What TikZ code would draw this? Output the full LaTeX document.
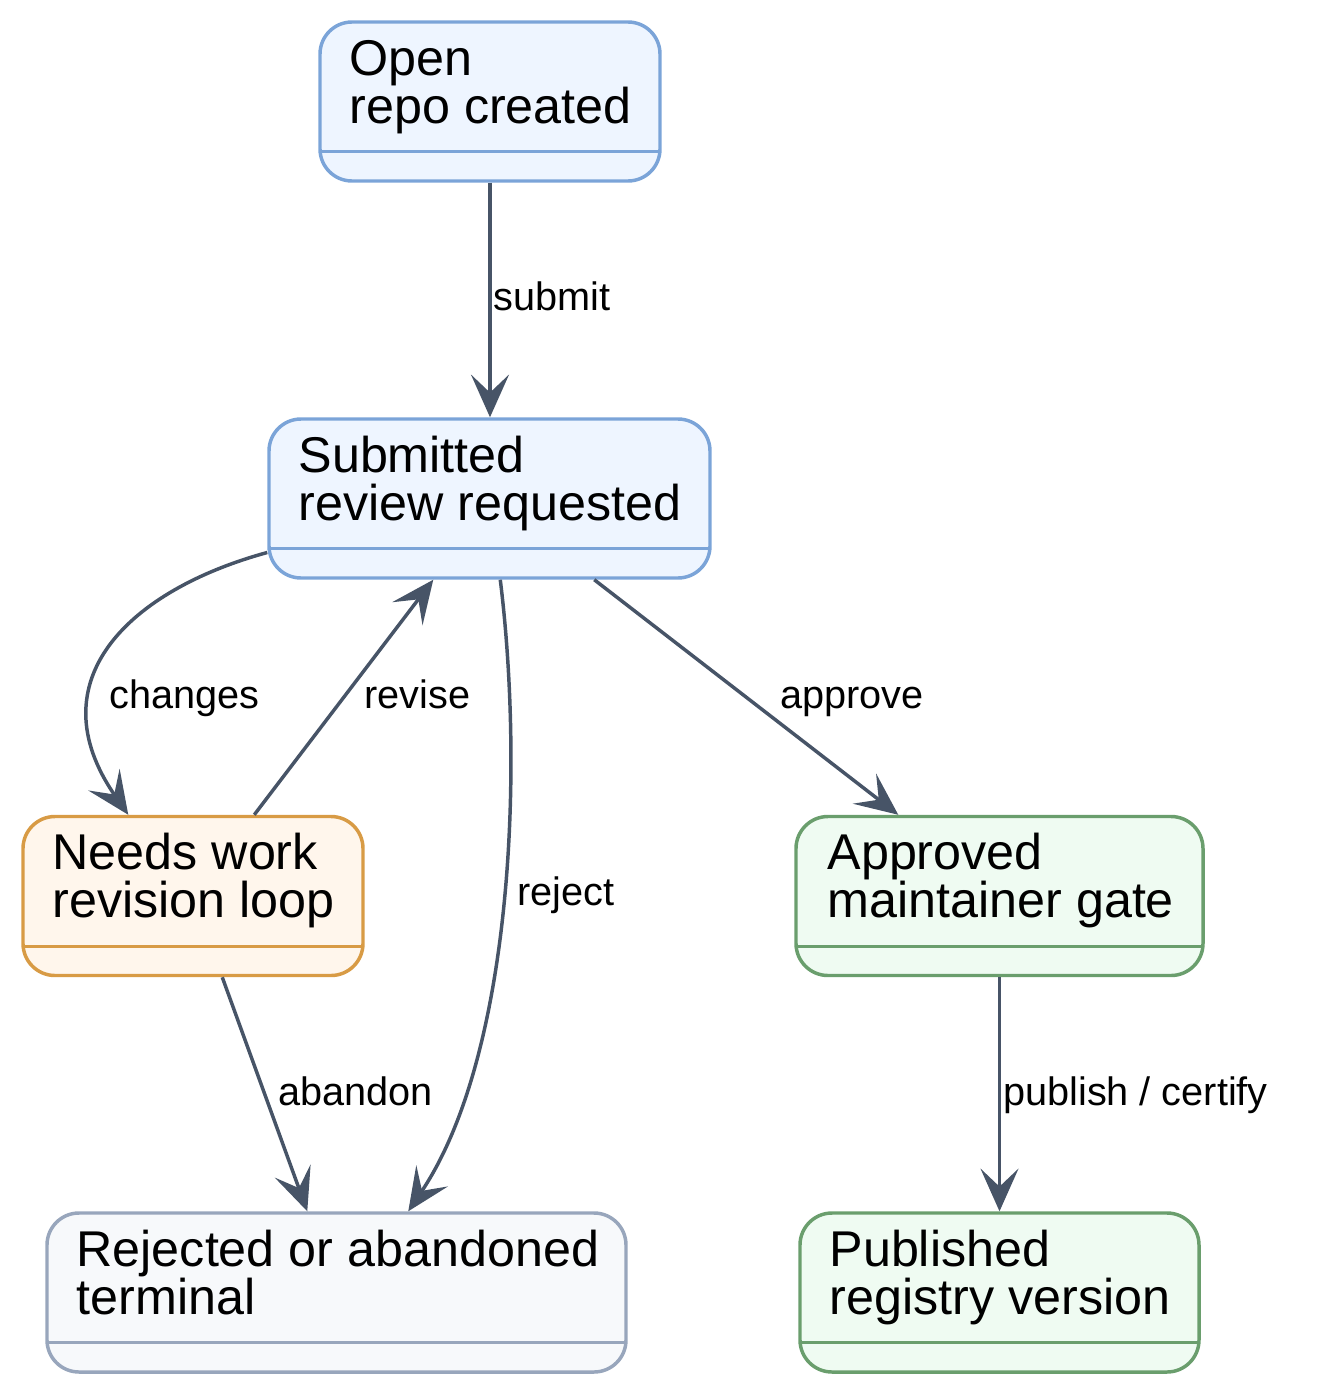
\documentclass[tikz,border=0pt]{standalone}
\usepackage{fontspec}
\setmainfont{Liberation Sans}
\usetikzlibrary{arrows.meta,calc}
\definecolor{blueB}{HTML}{7BA4D8}
\definecolor{blueF}{HTML}{EEF5FF}
\definecolor{orangeB}{HTML}{D89B45}
\definecolor{orangeF}{HTML}{FFF6EC}
\definecolor{greenB}{HTML}{6A9E6D}
\definecolor{greenF}{HTML}{EFFBF2}
\definecolor{grayB}{HTML}{98A6BC}
\definecolor{grayF}{HTML}{F7F9FB}
\definecolor{edgeC}{HTML}{475467}
\begin{document}
\begin{tikzpicture}[x=0.75pt,y=-0.75pt,
  sbox/.style={rectangle, rounded corners=24pt, line width=2.6pt, inner sep=0pt},
  bluebox/.style={sbox, draw=blueB, fill=blueF},
  orangebox/.style={sbox, draw=orangeB, fill=orangeF},
  greenbox/.style={sbox, draw=greenB, fill=greenF},
  graybox/.style={sbox, draw=grayB, fill=grayF},
  divline/.style={line width=2.6pt},
  stxt/.style={anchor=base west, inner sep=0pt, font=\fontsize{37.7pt}{36pt}\selectfont},
  etxt/.style={anchor=base west, inner sep=0pt, font=\fontsize{29.75pt}{34pt}\selectfont},
  conn/.style={draw=edgeC, line width=2.6pt, -{Stealth[length=32pt,width=28.5pt,inset=13.5pt]}}
]
\useasboundingbox (0,0) rectangle (1322,1377);

% state boxes
\node[bluebox, minimum width=340*0.75pt, minimum height=159*0.75pt] (open) at (490,101.5) {};
\node[bluebox, minimum width=441*0.75pt, minimum height=159*0.75pt] (sub) at (489.5,498.5) {};
\node[orangebox, minimum width=340*0.75pt, minimum height=159*0.75pt] (needs) at (193,896) {};
\node[greenbox, minimum width=407*0.75pt, minimum height=159*0.75pt] (appr) at (999.5,896) {};
\node[graybox, minimum width=579*0.75pt, minimum height=159*0.75pt] (rej) at (336.5,1292.5) {};
\node[greenbox, minimum width=399*0.75pt, minimum height=159*0.75pt] (pub) at (999.5,1292.5) {};

% dividers
\draw[divline, blueB] ($(open.south west)+(1.7,-31)$) -- ($(open.south east)+(-1.7,-31)$);
\draw[divline, blueB] ($(sub.south west)+(1.7,-31)$) -- ($(sub.south east)+(-1.7,-31)$);
\draw[divline, orangeB] ($(needs.south west)+(1.7,-31)$) -- ($(needs.south east)+(-1.7,-31)$);
\draw[divline, greenB] ($(appr.south west)+(1.7,-31)$) -- ($(appr.south east)+(-1.7,-31)$);
\draw[divline, grayB] ($(rej.south west)+(1.7,-31)$) -- ($(rej.south east)+(-1.7,-31)$);
\draw[divline, greenB] ($(pub.south west)+(1.7,-31)$) -- ($(pub.south east)+(-1.7,-31)$);

% state texts
\node[stxt] (open-a) at ($(open.north west)+(31,55)$) {Open};
\node[stxt] (open-b) at ($(open.north west)+(31,103)$) {repo created};
\node[stxt] (sub-a) at ($(sub.north west)+(31,55)$) {Submitted};
\node[stxt] (sub-b) at ($(sub.north west)+(31,103)$) {review requested};
\node[stxt] (needs-a) at ($(needs.north west)+(31,55)$) {Needs work};
\node[stxt] (needs-b) at ($(needs.north west)+(31,103)$) {revision loop};
\node[stxt] (appr-a) at ($(appr.north west)+(33,55)$) {Approved};
\node[stxt] (appr-b) at ($(appr.north west)+(33,103)$) {maintainer gate};
\node[stxt] (rej-a) at ($(rej.north west)+(31,55)$) {Rejected or abandoned};
\node[stxt] (rej-b) at ($(rej.north west)+(31,103)$) {terminal};
\node[stxt] (pub-a) at ($(pub.north west)+(31,55)$) {Published};
\node[stxt] (pub-b) at ($(pub.north west)+(31,103)$) {registry version};

% connectors
\draw[conn] (open.south) -- (open.south |- sub.north);
\draw[conn] ($(sub.west)+(0,54)$) .. controls (130,590) and (35,680) .. ($(needs.north west)+(107,0)$);
\draw[conn] ($(needs.north west)+(233,0)$) -- ($(sub.south west)+(166,0)$);
\draw[conn] ($(sub.south west)+(233,0)$) .. controls (525,780) and (510,1060) .. ($(rej.north west)+(363,0)$);
\draw[conn] ($(sub.south west)+(327,0)$) -- ($(appr.north west)+(104,0)$);
\draw[conn] ($(needs.south west)+(201,0)$) -- ($(rej.north west)+(262,0)$);
\draw[conn] (appr.south) -- (appr.south |- pub.north);

% connector labels
\node[etxt] (l-submit) at (493,310) {submit};
\node[etxt] (l-changes) at (109,708) {changes};
\node[etxt] (l-revise) at (364,708) {revise};
\node[etxt] (l-approve) at (780,708) {approve};
\node[etxt] (l-reject) at (517,905) {reject};
\node[etxt] (l-abandon) at (278,1105) {abandon};
\node[etxt] (l-publish) at (1003,1105) {publish / certify};
\end{tikzpicture}
\end{document}
